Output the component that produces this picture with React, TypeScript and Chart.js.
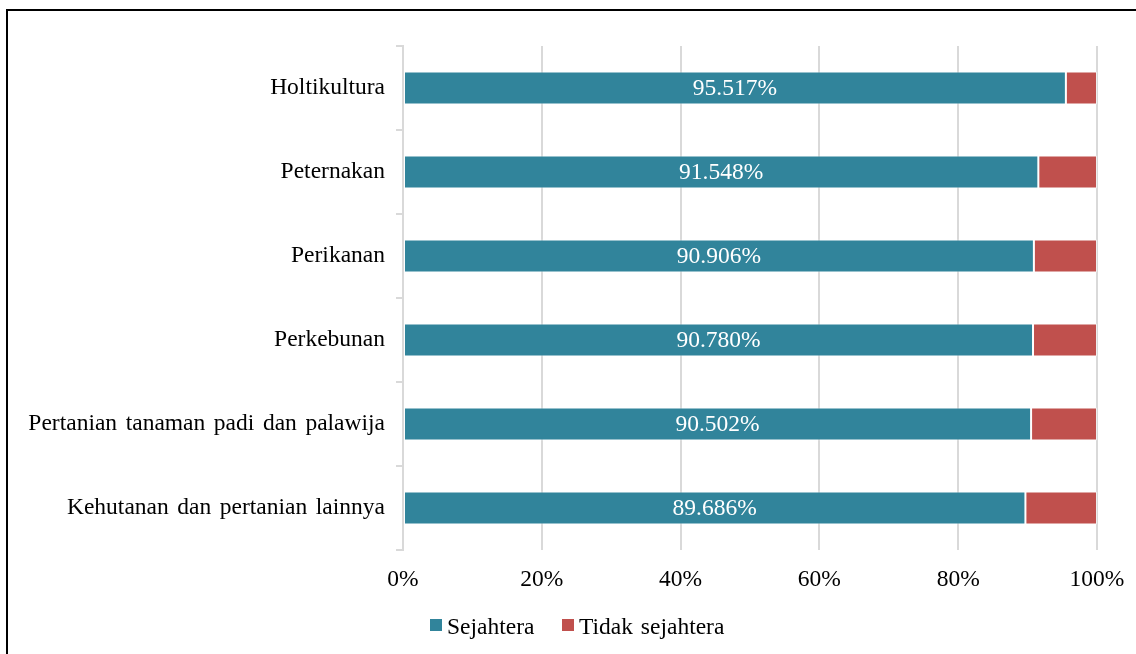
import React, { useEffect, useRef } from "react";
import { Chart, registerables } from "chart.js";

Chart.register(...registerables);

const categories = [
  "Holtikultura",
  "Peternakan",
  "Perikanan",
  "Perkebunan",
  "Pertanian tanaman padi dan palawija",
  "Kehutanan dan pertanian lainnya",
];
const sejahtera = [95.517, 91.548, 90.906, 90.78, 90.502, 89.686];
const tidakSejahtera = [4.483, 8.452, 9.094, 9.22, 9.498, 10.314];
const seriesNames = ["Sejahtera", "Tidak sejahtera"];
const xTicks = [0, 20, 40, 60, 80, 100];

const TEAL = "#31849B";
const RED = "#C0504D";
const GRID = "#d9d9d9";
const FONT = '"Liberation Serif", "Times New Roman", serif';
const FS = 23.5;

const wordSpacingPlugin = {
  id: "wordSpacing",
  beforeDraw(chart: any) {
    (chart.ctx as any).wordSpacing = "2.7px";
  },
  afterDraw(chart: any) {
    (chart.ctx as any).wordSpacing = "0px";
  },
};

const dataLabelPlugin = {
  id: "dataLabels",
  afterDatasetsDraw(chart: any) {
    const ctx = chart.ctx;
    const meta = chart.getDatasetMeta(0);
    ctx.save();
    ctx.fillStyle = "#ffffff";
    ctx.font = `${FS}px ${FONT}`;
    ctx.textAlign = "center";
    ctx.textBaseline = "middle";
    meta.data.forEach((bar: any, i: number) => {
      const cx = (bar.x + bar.base) / 2;
      ctx.fillText(sejahtera[i].toFixed(3) + "%", cx, bar.y + 1);
    });
    ctx.restore();
  },
};

export default function App() {
  const ref = useRef<HTMLCanvasElement>(null);
  useEffect(() => {
    document.body.style.margin = "0";
    document.body.style.overflow = "hidden";
    const chart = new Chart(ref.current!, {
      type: "bar",
      data: {
        labels: categories,
        datasets: [
          {
            label: seriesNames[0],
            data: sejahtera,
            backgroundColor: TEAL,
            borderColor: "rgba(255,255,255,0.55)",
            borderWidth: 1,
            borderSkipped: false,
          },
          {
            label: seriesNames[1],
            data: tidakSejahtera,
            backgroundColor: RED,
            borderColor: "rgba(255,255,255,0.55)",
            borderWidth: 1,
            borderSkipped: false,
          },
        ],
      },
      options: {
        indexAxis: "y",
        animation: false,
        responsive: false,
        maintainAspectRatio: false,
        layout: { padding: { left: 0, right: 39, top: 46, bottom: 0 } },
        datasets: { bar: { barPercentage: 0.393, categoryPercentage: 1 } },
        plugins: { legend: { display: false }, tooltip: { enabled: false } },
        scales: {
          x: {
            stacked: true,
            min: 0,
            max: 100,
            afterBuildTicks(scale: any) {
              scale.ticks = xTicks.map((v) => ({ value: v }));
            },
            afterFit(scale: any) {
              scale.height = 104;
              scale.paddingLeft = 0;
              scale.paddingRight = 0;
            },
            grid: { color: GRID, lineWidth: 2, drawTicks: false },
            border: { display: false },
            ticks: {
              padding: 16,
              color: "#000",
              font: { family: FONT, size: FS },
              callback: (v: any) => v + "%",
            },
          },
          y: {
            stacked: true,
            afterFit(scale: any) {
              scale.width = 403;
              scale.paddingTop = 0;
              scale.paddingBottom = 0;
            },
            grid: {
              color: GRID,
              lineWidth: 2,
              drawOnChartArea: false,
              drawTicks: true,
              tickLength: 7,
              offset: true,
            },
            border: { display: true, color: GRID, width: 2 },
            ticks: {
              padding: 11,
              color: "#000",
              font: { family: FONT, size: FS },
            },
          },
        },
      },
      plugins: [wordSpacingPlugin, dataLabelPlugin],
    } as any);
    return () => chart.destroy();
  }, []);

  const legendText: React.CSSProperties = {
    position: "absolute",
    top: 609,
    fontFamily: FONT,
    fontSize: FS,
    lineHeight: "34px",
    color: "#000",
    whiteSpace: "nowrap",
    wordSpacing: "2px",
  };
  const box = (left: number, color: string): React.CSSProperties => ({
    position: "absolute",
    left,
    top: 619,
    width: 12,
    height: 12,
    background: color,
  });

  return (
    <div style={{ position: "fixed", left: 0, top: 0, width: 1136, height: 654, overflow: "hidden", background: "#fff" }}>
      <canvas ref={ref} width={1136} height={654} style={{ position: "absolute", left: 0, top: 0 }} />
      <div style={box(430, TEAL)} />
      <div style={{ ...legendText, left: 447 }}>{seriesNames[0]}</div>
      <div style={box(562, RED)} />
      <div style={{ ...legendText, left: 579 }}>{seriesNames[1]}</div>
      <div
        style={{
          position: "absolute",
          left: 6,
          top: 9,
          width: 1150,
          height: 670,
          border: "2px solid #000",
          boxSizing: "border-box",
          pointerEvents: "none",
        }}
      />
    </div>
  );
}
